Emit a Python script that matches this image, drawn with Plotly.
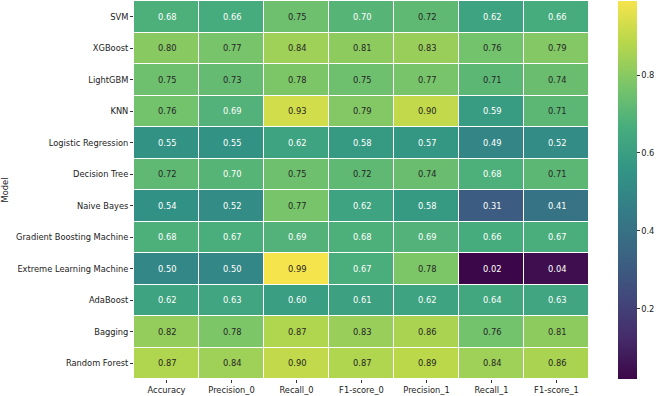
import plotly.graph_objects as go

models = ["SVM", "XGBoost", "LightGBM", "KNN", "Logistic Regression", "Decision Tree",
          "Naive Bayes", "Gradient Boosting Machine", "Extreme Learning Machine",
          "AdaBoost", "Bagging", "Random Forest"]
metrics = ["Accuracy", "Precision_0", "Recall_0", "F1-score_0", "Precision_1", "Recall_1", "F1-score_1"]

accuracy    = [0.68, 0.80, 0.75, 0.76, 0.55, 0.72, 0.54, 0.68, 0.50, 0.62, 0.82, 0.87]
precision_0 = [0.66, 0.77, 0.73, 0.69, 0.55, 0.70, 0.52, 0.67, 0.50, 0.63, 0.78, 0.84]
recall_0    = [0.75, 0.84, 0.78, 0.93, 0.62, 0.75, 0.77, 0.69, 0.99, 0.60, 0.87, 0.90]
f1_0        = [0.70, 0.81, 0.75, 0.79, 0.58, 0.72, 0.62, 0.68, 0.67, 0.61, 0.83, 0.87]
precision_1 = [0.72, 0.83, 0.77, 0.90, 0.57, 0.74, 0.58, 0.69, 0.78, 0.62, 0.86, 0.89]
recall_1    = [0.62, 0.76, 0.71, 0.59, 0.49, 0.68, 0.31, 0.66, 0.02, 0.64, 0.76, 0.84]
f1_1        = [0.66, 0.79, 0.74, 0.71, 0.52, 0.71, 0.41, 0.67, 0.04, 0.63, 0.81, 0.86]

columns = [accuracy, precision_0, recall_0, f1_0, precision_1, recall_1, f1_1]
z = [[col[i] for col in columns] for i in range(len(models))]
zmin = min(min(r) for r in z)
zmax = max(max(r) for r in z)

# viridis, slightly desaturated to match the reference rendering
viridis_hex = ["#440154", "#482878", "#3e4989", "#31688e", "#26828e",
               "#1f9e89", "#35b779", "#6ece58", "#b5de2b", "#fde725"]


def soften(h, s=0.78):
    r, g, b = int(h[1:3], 16), int(h[3:5], 16), int(h[5:7], 16)
    lum = 0.299 * r + 0.587 * g + 0.114 * b
    f = lambda c: max(0, min(255, round(lum + s * (c - lum))))
    return f"rgb({f(r)},{f(g)},{f(b)})"


colorscale = [[i / (len(viridis_hex) - 1), soften(c)] for i, c in enumerate(viridis_hex)]

FONT = "DejaVu Sans"
FS = 8.3

fig = go.Figure(go.Heatmap(
    z=z, x=metrics, y=models,
    colorscale=colorscale, zmin=zmin, zmax=zmax,
    xgap=1, ygap=1,
    colorbar=dict(
        thickness=19, len=1, lenmode="fraction", y=1, yanchor="top",
        x=1.064, xanchor="left", xpad=0, ypad=0,
        outlinewidth=0, ticks="outside", ticklen=3, tickcolor="#333",
        tickvals=[0.2, 0.4, 0.6, 0.8], ticktext=["0.2", "0.4", "0.6", "0.8"],
        tickfont=dict(family=FONT, size=FS, color="#222"),
    ),
    hoverinfo="skip",
))

annotations = []
for i, m in enumerate(models):
    for j, k in enumerate(metrics):
        v = z[i][j]
        annotations.append(dict(
            x=k, y=m, text=f"{v:.2f}", showarrow=False,
            font=dict(family=FONT, size=FS, color="#262626" if v > 0.705 else "white"),
        ))

fig.update_layout(
    width=658, height=396,
    margin=dict(l=134, r=69, t=1, b=17),
    plot_bgcolor="white", paper_bgcolor="white",
    annotations=annotations,
    font=dict(family=FONT, size=FS, color="#222"),
    xaxis=dict(showgrid=False, zeroline=False, ticks="outside", ticklen=3,
               tickcolor="#333", tickfont=dict(family=FONT, size=FS, color="#222")),
    yaxis=dict(showgrid=False, zeroline=False, autorange="reversed", ticks="outside",
               ticklen=3, tickcolor="#333", tickfont=dict(family=FONT, size=FS, color="#222"),
               title=dict(text="Model", font=dict(family=FONT, size=FS, color="#222"), standoff=8)),
)

fig.write_html("out.html")
